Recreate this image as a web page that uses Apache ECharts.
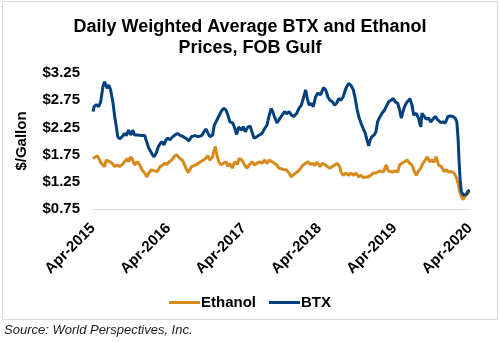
<!DOCTYPE html>
<html>
<head>
<meta charset="utf-8">
<script src="https://cdn.jsdelivr.net/npm/echarts@6/dist/echarts.min.js"></script>
<style>
  html, body { margin: 0; padding: 0; background: #fff; }
  #chart { width: 500px; height: 342px; }
</style>
</head>
<body>
<div id="chart"></div>
<script>
// Daily weighted average prices, $/gallon, FOB Gulf
const btxDates = [
  '2015-04-01','2015-04-06','2015-04-17','2015-04-28','2015-05-08','2015-05-19','2015-05-27','2015-06-08','2015-06-16','2015-06-25',
  '2015-07-06','2015-07-15','2015-07-22','2015-07-30','2015-08-08','2015-08-21','2015-09-02','2015-09-10','2015-09-21','2015-10-01',
  '2015-10-12','2015-10-20','2015-11-03','2015-11-22','2015-12-08','2015-12-15','2015-12-27','2016-01-09','2016-01-22','2016-02-02',
  '2016-02-13','2016-02-21','2016-02-28','2016-03-10','2016-03-20','2016-03-30','2016-04-09','2016-04-22','2016-05-03','2016-05-14',
  '2016-05-26','2016-06-12','2016-06-28','2016-07-09','2016-07-22','2016-08-08','2016-08-24','2016-09-10','2016-09-21','2016-09-30',
  '2016-10-11','2016-10-20','2016-11-02','2016-11-10','2016-11-18','2016-12-01','2016-12-13','2016-12-25','2017-01-06','2017-01-15',
  '2017-01-26','2017-02-08','2017-02-17','2017-02-25','2017-03-07','2017-03-19','2017-03-30','2017-04-08','2017-04-21','2017-05-02',
  '2017-05-10','2017-05-21','2017-06-04','2017-06-15','2017-06-28','2017-07-11','2017-07-22','2017-08-03','2017-08-12','2017-08-20',
  '2017-08-28','2017-09-09','2017-09-24','2017-10-05','2017-10-16','2017-10-26','2017-11-07','2017-11-18','2017-11-30','2017-12-14',
  '2017-12-25','2018-01-06','2018-01-15','2018-01-27','2018-02-04','2018-02-12','2018-02-23','2018-03-03','2018-03-14','2018-03-25',
  '2018-04-08','2018-04-21','2018-05-02','2018-05-13','2018-05-23','2018-06-04','2018-06-15','2018-06-25','2018-07-04','2018-07-15',
  '2018-07-26','2018-08-09','2018-08-22','2018-09-03','2018-09-14','2018-09-23','2018-10-01','2018-10-10','2018-10-21','2018-11-01',
  '2018-11-11','2018-11-19','2018-11-27','2018-12-05','2018-12-13','2018-12-24','2019-01-02','2019-01-10','2019-01-18','2019-02-01',
  '2019-02-12','2019-02-23','2019-03-03','2019-03-14','2019-03-25','2019-04-04','2019-04-16','2019-04-25','2019-05-03','2019-05-16',
  '2019-05-27','2019-06-05','2019-06-14','2019-06-24','2019-07-02','2019-07-15','2019-07-26','2019-08-06','2019-08-12','2019-08-21',
  '2019-09-02','2019-09-14','2019-09-23','2019-10-04','2019-10-15','2019-10-28','2019-11-11','2019-11-22','2019-12-03','2019-12-16',
  '2019-12-29','2020-01-10','2020-01-21','2020-01-29','2020-02-04','2020-02-08','2020-02-13','2020-02-19','2020-02-28','2020-03-06',
  '2020-03-13','2020-03-21','2020-03-30'
];
const btxValues = [
  2.54,2.63,2.67,2.63,2.72,3.00,3.09,2.97,3.03,2.94,
  2.72,2.45,2.29,2.08,2.04,2.08,2.14,2.10,2.20,2.11,
  2.20,2.11,2.11,2.10,2.10,2.02,1.88,1.79,1.71,1.77,
  1.90,1.93,1.99,1.93,2.02,2.05,2.02,2.08,2.11,2.14,
  2.11,2.08,2.04,2.00,2.08,2.10,2.08,2.10,2.17,2.22,
  2.14,2.08,2.11,2.29,2.35,2.45,2.54,2.60,2.57,2.48,
  2.35,2.33,2.23,2.12,2.26,2.20,2.26,2.17,2.26,2.27,
  2.17,2.05,2.08,2.11,2.14,2.23,2.29,2.48,2.60,2.54,
  2.45,2.33,2.42,2.48,2.54,2.50,2.54,2.48,2.45,2.51,
  2.60,2.66,2.78,2.94,2.78,2.66,2.69,2.63,2.81,2.88,
  2.85,2.98,2.94,2.81,2.75,2.72,2.66,2.70,2.78,2.75,
  2.81,2.97,3.06,3.02,2.94,2.78,2.60,2.45,2.33,2.23,
  2.14,2.02,1.91,2.02,2.08,2.11,2.17,2.35,2.42,2.51,
  2.57,2.66,2.72,2.75,2.78,2.72,2.69,2.57,2.42,2.60,
  2.69,2.66,2.78,2.66,2.48,2.51,2.42,2.26,2.51,2.48,
  2.40,2.42,2.35,2.40,2.45,2.39,2.34,2.35,2.33,2.45,
  2.46,2.45,2.42,2.35,2.05,1.68,1.31,1.07,1.01,1.04,
  1.01,1.07,1.10
];

const ethanolDates = [
  '2015-04-01','2015-04-09','2015-04-21','2015-05-03','2015-05-11','2015-05-19','2015-05-27','2015-06-04','2015-06-13','2015-06-21',
  '2015-07-02','2015-07-15','2015-07-27','2015-08-08','2015-08-19','2015-09-02','2015-09-15','2015-09-21','2015-10-01','2015-10-09',
  '2015-10-20','2015-11-03','2015-11-14','2015-11-25','2015-12-08','2015-12-19','2015-12-28','2016-01-09','2016-01-16','2016-01-27',
  '2016-02-08','2016-02-21','2016-03-04','2016-03-15','2016-03-26','2016-04-05','2016-04-17','2016-04-28','2016-05-11','2016-05-18',
  '2016-05-26','2016-06-07','2016-06-15','2016-06-25','2016-07-06','2016-07-14','2016-07-22','2016-07-30','2016-08-13','2016-08-24',
  '2016-09-05','2016-09-18','2016-09-29','2016-10-09','2016-10-20','2016-11-02','2016-11-07','2016-11-15','2016-11-23','2016-12-01',
  '2016-12-13','2016-12-25','2017-01-06','2017-01-15','2017-01-25','2017-02-05','2017-02-17','2017-02-28','2017-03-09','2017-03-22',
  '2017-04-05','2017-04-16','2017-04-27','2017-05-10','2017-05-23','2017-06-04','2017-06-15','2017-06-28','2017-07-11','2017-07-22',
  '2017-08-03','2017-08-16','2017-08-28','2017-09-08','2017-09-19','2017-09-30','2017-10-13','2017-10-26','2017-11-07','2017-11-18',
  '2017-11-27','2017-12-09','2017-12-20','2018-01-03','2018-01-15','2018-01-27','2018-02-08','2018-02-17','2018-02-28','2018-03-09',
  '2018-03-22','2018-04-05','2018-04-16','2018-04-27','2018-05-10','2018-05-23','2018-06-04','2018-06-15','2018-06-27','2018-07-09',
  '2018-07-15','2018-07-26','2018-08-09','2018-08-22','2018-09-03','2018-09-14','2018-09-27','2018-10-10','2018-10-21','2018-11-01',
  '2018-11-14','2018-11-25','2018-12-08','2018-12-19','2019-01-02','2019-01-15','2019-01-26','2019-02-07','2019-02-20','2019-02-28',
  '2019-03-09','2019-03-22','2019-04-04','2019-04-16','2019-04-25','2019-05-06','2019-05-19','2019-06-01','2019-06-13','2019-06-24',
  '2019-07-04','2019-07-15','2019-07-26','2019-08-06','2019-08-17','2019-08-28','2019-09-07','2019-09-18','2019-09-29','2019-10-09',
  '2019-10-20','2019-11-01','2019-11-14','2019-11-27','2019-12-08','2019-12-19','2020-01-02','2020-01-15','2020-01-26','2020-02-04',
  '2020-02-12','2020-02-19','2020-02-28','2020-03-06','2020-03-21','2020-03-30'
];
const ethanolValues = [
  1.68,1.71,1.73,1.65,1.59,1.56,1.53,1.65,1.68,1.62,
  1.59,1.53,1.56,1.53,1.56,1.62,1.68,1.62,1.71,1.67,
  1.56,1.62,1.56,1.47,1.41,1.34,1.41,1.47,1.44,1.45,
  1.44,1.53,1.56,1.59,1.57,1.62,1.65,1.71,1.75,1.73,
  1.68,1.65,1.59,1.50,1.42,1.47,1.53,1.50,1.56,1.59,
  1.62,1.65,1.68,1.73,1.65,1.71,1.80,1.90,1.74,1.62,
  1.56,1.59,1.62,1.53,1.59,1.50,1.62,1.57,1.68,1.65,
  1.56,1.50,1.56,1.62,1.56,1.59,1.62,1.59,1.65,1.59,
  1.65,1.62,1.59,1.56,1.50,1.49,1.47,1.47,1.41,1.34,
  1.38,1.41,1.44,1.50,1.56,1.59,1.62,1.57,1.59,1.55,
  1.61,1.53,1.59,1.57,1.53,1.50,1.53,1.56,1.59,1.53,
  1.44,1.37,1.41,1.37,1.41,1.37,1.41,1.34,1.37,1.33,
  1.34,1.34,1.37,1.41,1.41,1.44,1.45,1.43,1.56,1.45,
  1.45,1.43,1.45,1.43,1.56,1.59,1.62,1.65,1.59,1.56,
  1.45,1.37,1.45,1.50,1.59,1.65,1.71,1.62,1.65,1.61,
  1.71,1.56,1.53,1.44,1.47,1.43,1.44,1.41,1.34,1.22,
  1.07,0.98,0.92,0.98,1.04,1.07
];

const yearTickLabels = ['Apr-2015', 'Apr-2016', 'Apr-2017', 'Apr-2018', 'Apr-2019', 'Apr-2020'];

// Months elapsed since 1 April 2015 (fractional), so yearly ticks fall on each April
function monthsSinceStart(dateStr) {
  const [y, m, d] = dateStr.split('-').map(Number);
  const daysInMonth = new Date(Date.UTC(y, m, 0)).getUTCDate();
  return (y - 2015) * 12 + (m - 4) + (d - 1) / daysInMonth;
}
function pairs(dates, values) {
  return dates.map((dt, i) => [monthsSinceStart(dt), values[i]]);
}

const FONT = '"Liberation Sans", Arial, sans-serif';
const ETHANOL_COLOR = '#D68A1C';
const BTX_COLOR = '#00417E';

const chart = echarts.init(document.getElementById('chart'), null, { renderer: 'canvas' });
chart.setOption({
  animation: false,
  backgroundColor: '#fff',
  title: {
    text: 'Daily Weighted Average BTX and Ethanol\nPrices, FOB Gulf',
    left: 'center',
    top: 12,
    textStyle: { fontFamily: FONT, fontSize: 18, fontWeight: 'bold', color: '#000', lineHeight: 21 }
  },
  grid: { left: 93, right: 30, top: 73, bottom: 133 },
  xAxis: {
    type: 'value',
    min: 0,
    max: 60,
    interval: 12,
    splitLine: { show: false },
    axisTick: { show: false },
    axisLine: { show: true, lineStyle: { color: '#D9D9D9', width: 1 } },
    axisLabel: {
      rotate: 45,
      margin: 17,
      fontFamily: FONT,
      fontSize: 15,
      fontWeight: 'bold',
      color: '#000',
      formatter: v => yearTickLabels[Math.round(v / 12)] || ''
    }
  },
  yAxis: {
    type: 'value',
    min: 0.75,
    max: 3.25,
    interval: 0.5,
    name: '$/Gallon',
    nameLocation: 'middle',
    nameGap: 64,
    nameRotate: 90,
    nameTextStyle: { fontFamily: FONT, fontSize: 15, fontWeight: 'bold', color: '#000' },
    splitLine: { show: false },
    axisLine: { show: false },
    axisTick: { show: false },
    axisLabel: {
      margin: 13,
      fontFamily: FONT,
      fontSize: 15,
      fontWeight: 'bold',
      color: '#000',
      formatter: v => '$' + v.toFixed(2)
    }
  },
  legend: {
    top: 290,
    left: 'center',
    icon: 'rect',
    itemWidth: 31,
    itemHeight: 3,
    itemGap: 13,
    textStyle: { fontFamily: FONT, fontSize: 15, fontWeight: 'bold', color: '#000', padding: [0, 0, 0, -4] },
    data: ['Ethanol', 'BTX']
  },
  series: [
    {
      name: 'Ethanol',
      type: 'line',
      data: pairs(ethanolDates, ethanolValues),
      symbol: 'none',
      lineStyle: { color: ETHANOL_COLOR, width: 3 },
      itemStyle: { color: ETHANOL_COLOR },
      z: 2
    },
    {
      name: 'BTX',
      type: 'line',
      data: pairs(btxDates, btxValues),
      symbol: 'none',
      lineStyle: { color: BTX_COLOR, width: 3 },
      itemStyle: { color: BTX_COLOR },
      z: 3
    }
  ],
  graphic: [
    {
      type: 'rect',
      shape: { x: 2.5, y: 1.5, width: 495, height: 318 },
      style: { fill: 'none', stroke: '#D9D9D9', lineWidth: 1 },
      silent: true
    },
    {
      type: 'text',
      left: 4,
      top: 324,
      style: {
        text: 'Source: World Perspectives, Inc.',
        font: 'italic 13px ' + FONT,
        fill: '#1a1a1a'
      }
    }
  ]
});
</script>
</body>
</html>
